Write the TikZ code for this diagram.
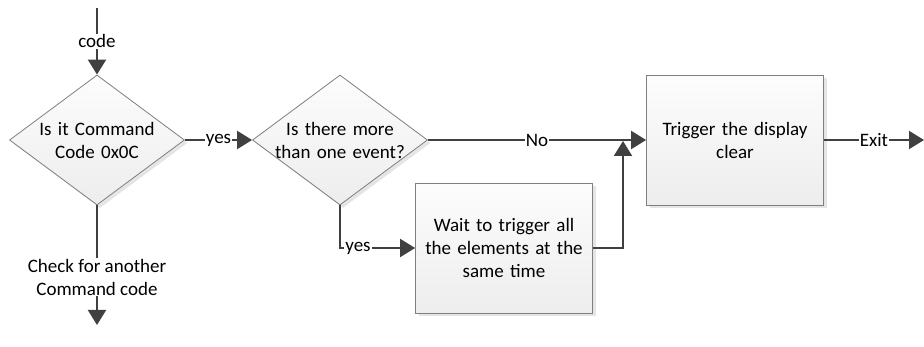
\documentclass[tikz,border=0pt]{standalone}
\usepackage{fontspec}
\setmainfont{Carlito}
\usetikzlibrary{shapes.geometric, arrows.meta, shadows}

\definecolor{wire}{HTML}{404040}
\definecolor{rim}{HTML}{7F7F7F}

\begin{document}
\begin{tikzpicture}[x=1pt, y=-1pt,
  font=\fontsize{19}{23}\selectfont,
  decision/.style={diamond, aspect=1.346, draw=rim, line width=0.8pt, top color=gray!2, bottom color=gray!14,
    drop shadow={shadow xshift=3pt, shadow yshift=-3pt, fill=gray!40, opacity=0.5},
    minimum width=175pt, minimum height=130pt, inner sep=-3pt, text width=130pt, align=center},
  process/.style={rectangle, draw=rim, line width=0.8pt, top color=gray!2, bottom color=gray!14,
    drop shadow={shadow xshift=3pt, shadow yshift=-3pt, fill=gray!40, opacity=0.5},
    minimum width=177pt, minimum height=130pt, text width=160pt, align=center},
  flow/.style={draw=wire, line width=2pt, -{Triangle[length=15pt, width=18pt]}},
  tag/.style={fill=white, inner sep=1pt, text=black, align=center}]
\useasboundingbox (0,0) rectangle (924,347);

\coordinate (start) at (97,8) ;
\node[decision] at (97,140) (check1) {Is it Command\\Code 0x0C} ;
\node[decision] at (340,140) (check2) {Is there more\\than one event?} ;
\node[process] at (504,248) (wait) {Wait to trigger all\\the elements at the\\same time} ;
\node[process] at (735,140) (trigger) {Trigger the display\\clear} ;
\coordinate (merge) at (623,141) ;
\coordinate (exit) at (924,140) ;
\coordinate (next) at (97,325) ;

\draw[flow] (start) -- node[tag] {code} (check1.north) ;
\draw[flow] (check1.east) -- node[tag] {yes} (check2.west) ;
\draw[flow] (check2.east) -- node[tag] {No} (trigger.west) ;
\draw[flow] (check2.south) |- node[tag, pos=0.62] {yes} (wait.west) ;
\draw[flow] (wait.east) -| (merge) ;
\draw[flow] (trigger.east) -- node[tag] {Exit} (exit) ;
\draw[flow] (check1.south) -- node[tag, pos=0.6] {Check for another\\Command code} (next) ;
\end{tikzpicture}
\end{document}
